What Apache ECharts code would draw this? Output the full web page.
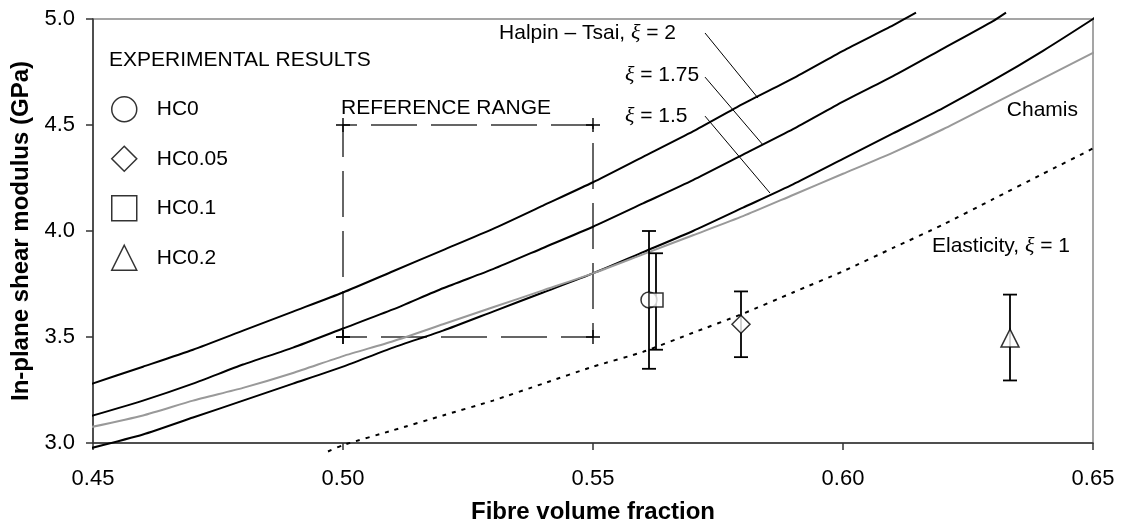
<!DOCTYPE html>
<html>
<head>
<meta charset="utf-8">
<script src="https://cdn.jsdelivr.net/npm/echarts@6/dist/echarts.min.js"></script>
<style>
html,body{margin:0;padding:0;background:#fff}
#main{width:1122px;height:523px}
</style>
</head>
<body>
<div id="main"></div>
<script>
// fibre volume fraction / shear modulus (GPa)
var vfHT2 = [0.4486, 0.46, 0.47, 0.48, 0.49, 0.50, 0.51, 0.52, 0.53, 0.54, 0.55, 0.56, 0.57, 0.58, 0.59, 0.60, 0.61, 0.6146];
var gHT2 = [3.27, 3.36, 3.44, 3.53, 3.62, 3.71, 3.81, 3.91, 4.01, 4.12, 4.23, 4.35, 4.47, 4.60, 4.72, 4.85, 4.97, 5.03];

var vfHT175 = [0.4486, 0.46, 0.47, 0.48, 0.49, 0.50, 0.51, 0.52, 0.53, 0.54, 0.55, 0.56, 0.57, 0.58, 0.59, 0.60, 0.61, 0.62, 0.63, 0.6326];
var gHT175 = [3.12, 3.20, 3.28, 3.37, 3.45, 3.54, 3.63, 3.73, 3.82, 3.92, 4.02, 4.13, 4.24, 4.36, 4.48, 4.61, 4.73, 4.86, 4.99, 5.03];

var vfHT15 = [0.4486, 0.46, 0.47, 0.48, 0.49, 0.50, 0.51, 0.52, 0.53, 0.54, 0.55, 0.56, 0.57, 0.58, 0.59, 0.60, 0.61, 0.62, 0.63, 0.64, 0.65, 0.6518];
var gHT15 = [2.97, 3.04, 3.12, 3.20, 3.28, 3.36, 3.45, 3.53, 3.62, 3.71, 3.80, 3.90, 4.00, 4.11, 4.22, 4.34, 4.46, 4.58, 4.71, 4.85, 5.00, 5.03];

var vfChamis = [0.4486, 0.46, 0.47, 0.48, 0.49, 0.50, 0.51, 0.52, 0.53, 0.54, 0.55, 0.56, 0.57, 0.58, 0.59, 0.60, 0.61, 0.62, 0.63, 0.64, 0.65, 0.6518];
var gChamis = [3.07, 3.13, 3.20, 3.26, 3.33, 3.41, 3.48, 3.56, 3.64, 3.72, 3.80, 3.89, 3.98, 4.07, 4.17, 4.27, 4.37, 4.48, 4.60, 4.72, 4.84, 4.86];

var vfElast = [0.497, 0.50, 0.51, 0.52, 0.53, 0.54, 0.55, 0.56, 0.57, 0.58, 0.59, 0.60, 0.61, 0.62, 0.63, 0.64, 0.65, 0.6518];
var gElast = [2.96, 2.99, 3.06, 3.13, 3.20, 3.28, 3.36, 3.43, 3.52, 3.61, 3.71, 3.81, 3.92, 4.03, 4.15, 4.27, 4.39, 4.42];

// reference range box
var rangeX = [0.50, 0.50, 0.55, 0.55, 0.50];
var rangeY = [3.5, 4.5, 4.5, 3.5, 3.5];

// experimental results
var expNames = ['HC0', 'HC0.05', 'HC0.1', 'HC0.2'];
var expSymbols = ['circle', 'diamond', 'rect', 'triangle'];
var expX = [0.5612, 0.5796, 0.5626, 0.6334];
var expY = [3.675, 3.56, 3.675, 3.495];
var expLow = [3.35, 3.405, 3.44, 3.295];
var expHigh = [4.00, 3.715, 3.895, 3.70];

// annotations (data coords)
var annoText = ['{n|Halpin – Tsai, }{g|ξ}{n| = 2}', '{g|ξ}{n| = 1.75}', '{g|ξ}{n| = 1.5}', '{n|Chamis}', '{n|Elasticity, }{g|ξ}{n| = 1}', '{n|REFERENCE RANGE}', '{n|EXPERIMENTAL RESULTS}'];
var annoX = [0.5666, 0.5564, 0.5564, 0.6470, 0.6454, 0.4996, 0.4532];
var annoY = [4.934, 4.736, 4.542, 4.571, 3.929, 4.58, 4.807];
var annoAlign = ['right', 'left', 'left', 'right', 'right', 'left', 'left'];
var leadFrom = [[0.5724, 4.934], [0.5724, 4.726], [0.5724, 4.542]];
var leadTo = [[0.583, 4.627], [0.584, 4.406], [0.5854, 4.179]];

function pairs(xs, ys) {
    return xs.map(function (x, i) { return [x, ys[i]]; });
}

var font = 'Liberation Sans, Arial, sans-serif';
var chart = echarts.init(document.getElementById('main'));

function curve(name, xs, ys, color, type) {
    return {
        name: name,
        type: 'line',
        data: pairs(xs, ys),
        showSymbol: false,
        clip: false,
        smooth: 0.2,
        silent: true,
        lineStyle: { color: color, width: 2, type: type || 'solid' },
        z: 3
    };
}

var series = [
    curve('ht2', vfHT2, gHT2, '#000'),
    curve('ht175', vfHT175, gHT175, '#000'),
    curve('ht15', vfHT15, gHT15, '#000'),
    curve('chamis', vfChamis, gChamis, '#999'),
    curve('elast', vfElast, gElast, '#000', [4, 6]),
    {
        name: 'range',
        type: 'line',
        data: pairs(rangeX, rangeY),
        symbol: 'path://M-1,-10H1V-1H10V1H1V10H-1V1H-10V-1H-1Z',
        symbolSize: 14,
        showAllSymbol: true,
        itemStyle: { color: '#000' },
        lineStyle: { color: '#333', width: 1.5, type: [46, 14] },
        silent: true,
        z: 2
    },
    {
        name: 'errors',
        type: 'custom',
        data: expX.map(function (x, i) { return [x, expLow[i], expHigh[i]]; }),
        encode: { x: 0, y: [1, 2] },
        silent: true,
        z: 4,
        renderItem: function (params, api) {
            var top = api.coord([api.value(0), api.value(2)]);
            var bot = api.coord([api.value(0), api.value(1)]);
            var w = 7;
            var st = { stroke: '#000', lineWidth: 1.8 };
            return {
                type: 'group',
                children: [
                    { type: 'line', shape: { x1: top[0], y1: top[1], x2: bot[0], y2: bot[1] }, style: st },
                    { type: 'line', shape: { x1: top[0] - w, y1: top[1], x2: top[0] + w, y2: top[1] }, style: st },
                    { type: 'line', shape: { x1: bot[0] - w, y1: bot[1], x2: bot[0] + w, y2: bot[1] }, style: st }
                ]
            };
        }
    }
];

var expSizes = [16, 18, 14, 18];
expNames.forEach(function (n, i) {
    series.push({
        name: n,
        type: 'scatter',
        data: [[expX[i], expY[i]]],
        symbol: expSymbols[i],
        symbolSize: expSizes[i],
        itemStyle: { color: '#fff', borderColor: '#000', borderWidth: 1.5 },
        silent: true,
        z: 5
    });
});

var option = {
    backgroundColor: '#fff',
    animation: false,
    textStyle: { fontFamily: font },
    grid: {
        left: 93, right: 29, top: 19, bottom: 80,
        outerBoundsMode: 'none',
        show: true, borderColor: '#888', borderWidth: 1.5
    },
    legend: {
        data: expNames,
        orient: 'vertical',
        left: 111,
        top: 96,
        itemWidth: 25,
        itemHeight: 25,
        itemGap: 23,
        padding: 0,
        selectedMode: false,
        itemStyle: { color: '#fff', borderColor: '#000', borderWidth: 1.5 },
        textStyle: { fontSize: 21, color: '#000', fontFamily: font, padding: [0, 0, 0, 15] }
    },
    xAxis: {
        type: 'value',
        min: 0.45,
        max: 0.65,
        interval: 0.05,
        name: 'Fibre volume fraction',
        nameLocation: 'middle',
        nameGap: 57,
        nameTextStyle: { fontSize: 24, fontWeight: 'bold', color: '#000', fontFamily: font },
        axisLine: { lineStyle: { color: '#333', width: 1.5 } },
        axisTick: { show: true, length: 7, lineStyle: { color: '#333', width: 1.5 } },
        axisLabel: {
            fontSize: 22, color: '#000', margin: 25, fontFamily: font,
            formatter: function (v) { return v.toFixed(2); }
        },
        splitLine: { show: false }
    },
    yAxis: {
        type: 'value',
        min: 3.0,
        max: 5.0,
        interval: 0.5,
        name: 'In-plane shear modulus (GPa)',
        nameLocation: 'middle',
        nameRotate: 90,
        nameGap: 60,
        nameTextStyle: { fontSize: 24, fontWeight: 'bold', color: '#000', fontFamily: font },
        axisLine: { lineStyle: { color: '#333', width: 1.5 } },
        axisTick: { show: true, length: 7, lineStyle: { color: '#333', width: 1.5 } },
        axisLabel: {
            fontSize: 22, color: '#000', margin: 18, fontFamily: font,
            formatter: function (v) { return v.toFixed(1); }
        },
        splitLine: { show: false }
    },
    series: series
};

chart.setOption(option);

// text labels and leader lines placed from data coordinates
var graphics = [];
annoText.forEach(function (t, i) {
    var p = chart.convertToPixel({ gridIndex: 0 }, [annoX[i], annoY[i]]);
    graphics.push({
        type: 'text',
        x: p[0], y: p[1],
        z: 10,
        style: {
            text: t,
            align: annoAlign[i],
            verticalAlign: 'middle',
            rich: {
                n: { fontSize: 21, fontFamily: font, fill: '#000' },
                g: { fontSize: 22, fontFamily: 'Liberation Serif, serif', fontStyle: 'italic', fill: '#000' }
            }
        }
    });
});
leadFrom.forEach(function (a, i) {
    var p1 = chart.convertToPixel({ gridIndex: 0 }, a);
    var p2 = chart.convertToPixel({ gridIndex: 0 }, leadTo[i]);
    graphics.push({
        type: 'line',
        z: 10,
        shape: { x1: p1[0], y1: p1[1], x2: p2[0], y2: p2[1] },
        style: { stroke: '#000', lineWidth: 1 }
    });
});
chart.setOption({ graphic: graphics });
</script>
</body>
</html>
